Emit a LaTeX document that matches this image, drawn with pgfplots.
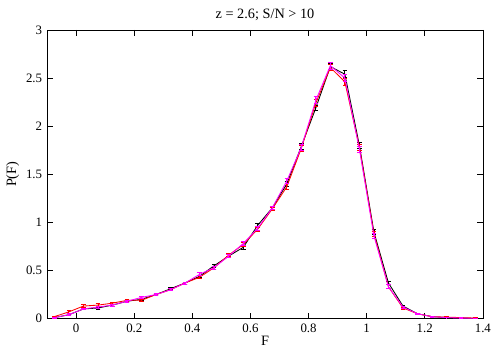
\documentclass[border=0pt]{standalone}
\usepackage{fontspec}
\setmainfont{Liberation Serif}
\usepackage{pgfplots}
\usepackage{pgfplotstable}
\pgfplotsset{compat=1.18}
\usetikzlibrary{calc}
\definecolor{mag}{RGB}{255,0,255}
\definecolor{rd}{RGB}{255,0,0}
\pgfplotstableread{
x y e
-0.075 0.01 0.005
-0.025 0.04 0.01
0.025 0.10 0.01
0.075 0.11 0.01
0.125 0.14 0.01
0.175 0.18 0.01
0.225 0.20 0.01
0.275 0.25 0.01
0.325 0.31 0.01
0.375 0.37 0.01
0.425 0.44 0.01
0.475 0.55 0.015
0.525 0.65 0.015
0.575 0.74 0.02
0.625 0.97 0.02
0.675 1.15 0.02
0.725 1.40 0.03
0.775 1.79 0.03
0.825 2.19 0.03
0.875 2.62 0.035
0.925 2.54 0.035
0.975 1.80 0.03
1.025 0.90 0.03
1.075 0.37 0.02
1.125 0.13 0.01
1.175 0.05 0.005
1.225 0.02 0.005
1.275 0.01 0.003
1.325 0.005 0.002
1.375 0.003 0.002
}\black
\pgfplotstableread{
x y e
-0.075 0.02 0.005
-0.025 0.07 0.015
0.025 0.13 0.015
0.075 0.14 0.015
0.125 0.16 0.01
0.175 0.19 0.01
0.225 0.19 0.01
0.275 0.25 0.01
0.325 0.30 0.01
0.375 0.37 0.01
0.425 0.43 0.015
0.475 0.53 0.015
0.525 0.66 0.015
0.575 0.77 0.02
0.625 0.93 0.02
0.675 1.14 0.02
0.725 1.37 0.03
0.775 1.77 0.03
0.825 2.24 0.035
0.875 2.61 0.035
0.925 2.46 0.035
0.975 1.78 0.03
1.025 0.88 0.03
1.075 0.33 0.02
1.125 0.11 0.01
1.175 0.05 0.005
1.225 0.02 0.005
1.275 0.015 0.003
1.325 0.01 0.002
1.375 0.005 0.002
}\red
\pgfplotstableread{
x y e
-0.075 0.01 0.005
-0.025 0.04 0.01
0.025 0.10 0.01
0.075 0.12 0.01
0.125 0.14 0.01
0.175 0.18 0.01
0.225 0.22 0.01
0.275 0.25 0.01
0.325 0.30 0.01
0.375 0.37 0.01
0.425 0.46 0.015
0.475 0.53 0.015
0.525 0.65 0.015
0.575 0.78 0.02
0.625 0.94 0.02
0.675 1.15 0.02
0.725 1.43 0.03
0.775 1.78 0.03
0.825 2.27 0.035
0.875 2.63 0.035
0.925 2.50 0.035
0.975 1.76 0.03
1.025 0.86 0.03
1.075 0.33 0.02
1.125 0.12 0.01
1.175 0.05 0.005
1.225 0.02 0.005
1.275 0.01 0.003
1.325 0.005 0.002
1.375 0.003 0.002
}\magenta
\begin{document}
\begin{tikzpicture}
\begin{axis}[
  scale only axis,
  width=305pt, height=202pt,
  xmin=-0.1, xmax=1.4, ymin=0, ymax=3,
  xtick={0,0.2,0.4,0.6,0.8,1,1.2,1.4},
  ytick={0,0.5,1,1.5,2,2.5,3},
  xticklabels={0,0.2,0.4,0.6,0.8,1,1.2,1.4},
  yticklabels={0,0.5,1,1.5,2,2.5,3},
  tick align=inside,
  tick style={black, thin},
  major tick length=4pt,
  axis line style={black, thin},
  tick label style={font=\small},
  label style={font=\normalsize},
  title style={font=\normalsize, yshift=-3pt},
  title={z = 2.6; S/N > 10},
  xlabel={F},
  ylabel={P(F)},
  xlabel style={yshift=4pt},
  ylabel style={yshift=-2pt},
  error bars/error bar style={line width=0.6pt},
  error bars/error mark options={rotate=90, mark size=1.6pt, line width=0.6pt},
]
\addplot[black, line width=0.6pt, mark=none, error bars/.cd, y dir=both, y explicit] table[x=x, y=y, y error=e] {\black};
\addplot[rd, line width=0.6pt, mark=none, error bars/.cd, y dir=both, y explicit] table[x=x, y=y, y error=e] {\red};
\addplot[mag, line width=0.6pt, mark=none, error bars/.cd, y dir=both, y explicit] table[x=x, y=y, y error=e] {\magenta};
\end{axis}
\pgfresetboundingbox
\path ($(current axis.south west)+(-33pt,-22pt)$) rectangle ($(current axis.north east)+(12pt,21pt)$);
\end{tikzpicture}
\end{document}
